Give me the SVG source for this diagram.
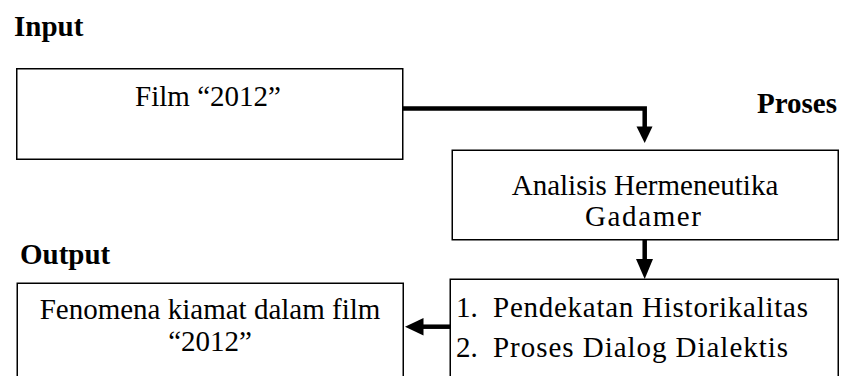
<svg xmlns="http://www.w3.org/2000/svg" width="841" height="376" viewBox="0 0 841 376">
<style>
.box{fill:#fff;stroke:#000;stroke-width:1.5}
.t{font-family:"Liberation Serif","Times New Roman",serif;font-size:29px;fill:#000}
.h{font-family:"Liberation Serif","Times New Roman",serif;font-size:29px;font-weight:bold;fill:#000}
.c{text-anchor:middle}
.ln{fill:none;stroke:#000;stroke-width:4.5}
.ah{fill:#000;stroke:none}
</style>
<rect width="841" height="376" fill="#fff"/>
<text class="h" x="14" y="36">Input</text>
<text class="h" x="837" y="113" text-anchor="end">Proses</text>
<text class="h" x="20" y="264">Output</text>
<g id="film">
<rect class="box" x="16.75" y="68.75" width="386" height="90.5"/>
<text class="t c" x="208" y="106">Film “2012”</text>
</g>
<g id="analisis">
<rect class="box" x="452.25" y="150.25" width="386" height="89.5"/>
<text class="t c" x="645" y="195">Analisis Hermeneutika</text>
<text class="t c" x="643" y="226" textLength="116" lengthAdjust="spacing">Gadamer</text>
</g>
<g id="pendekatan">
<rect class="box" x="450.25" y="279.25" width="388" height="110"/>
<text class="t" x="456" y="317">1.</text>
<text class="t" x="493" y="317" textLength="315" lengthAdjust="spacing">Pendekatan Historikalitas</text>
<text class="t" x="456" y="357">2.</text>
<text class="t" x="493" y="357" textLength="295" lengthAdjust="spacing">Proses Dialog Dialektis</text>
</g>
<g id="fenomena">
<rect class="box" x="17.25" y="283.25" width="386" height="106"/>
<text class="t c" x="210" y="319">Fenomena kiamat dalam film</text>
<text class="t c" x="210" y="351">“2012”</text>
</g>
<g id="connectors">
<polyline class="ln" points="403,108.5 644.7,108.5 644.7,128"/>
<polygon class="ah" points="636.5,126.5 652.5,126.5 644.7,143"/>
<line class="ln" x1="644.7" y1="240" x2="644.7" y2="261"/>
<polygon class="ah" points="636,259 653,259 644.7,279"/>
<line class="ln" x1="450" y1="326.7" x2="421" y2="326.7"/>
<polygon class="ah" points="423.5,318 423.5,335.5 405,326.7"/>
</g>
</svg>
